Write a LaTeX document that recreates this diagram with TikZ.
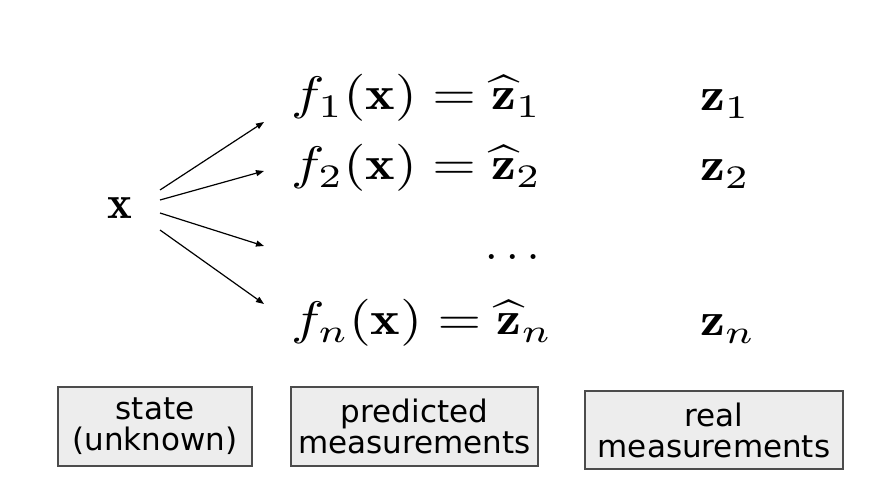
\documentclass[tikz,border=0pt]{standalone}
\usepackage{fontspec}
\usepackage{graphicx}
\newfontfamily\boxfont{DejaVu Sans}
\usetikzlibrary{arrows.meta}
\newcommand{\mybigmath}[1]{\scalebox{4.7}{$#1$}}
\newcommand{\mywidemath}[1]{\scalebox{5.6}[4.7]{$#1$}}
\begin{document}
\begin{tikzpicture}[x=1pt,y=-1pt,
  eq/.style={anchor=base west,inner sep=0pt},
  lbl/.style={draw=black!70,line width=1.2pt,fill=black!7,align=center,inner sep=0pt,
    font=\boxfont\fontsize{31}{31}\selectfont},
  arr/.style={line width=1.2pt,-{Triangle[length=8pt,width=6pt]}}]
\useasboundingbox (0,0) rectangle (873,502);
% state
\node[anchor=base,inner sep=0pt] (x) at (120,219) {\mybigmath{\mathbf{x}}};
% equations
\node[eq] (e1) at (291,110) {\mywidemath{f_1(\mathbf{x}) = \widehat{\mathbf{z}}_1}};
\node[eq] (e2) at (291,180) {\mywidemath{f_2(\mathbf{x}) = \widehat{\mathbf{z}}_2}};
\node[anchor=base east,inner sep=0pt] (dots) at (540,260) {\mybigmath{\dots}};
\node[eq] (en) at (291,335) {\mywidemath{f_n(\mathbf{x}) = \widehat{\mathbf{z}}_n}};
% real measurements
\node[eq] (z1) at (700,111) {\mywidemath{\mathbf{z}_1}};
\node[eq] (z2) at (700,181) {\mywidemath{\mathbf{z}_2}};
\node[eq] (zn) at (700,336) {\mywidemath{\mathbf{z}_n}};
% arrows
\coordinate (t1) at (160,190); \coordinate (h1) at (264,122);
\coordinate (t2) at (160,200); \coordinate (h2) at (264,171);
\coordinate (t3) at (160,213); \coordinate (h3) at (264,246);
\coordinate (t4) at (160,230); \coordinate (h4) at (264,304);
\draw[arr] (t1) -- (h1);
\draw[arr] (t2) -- (h2);
\draw[arr] (t3) -- (h3);
\draw[arr] (t4) -- (h4);
% boxes
\node[lbl,minimum width=194pt,minimum height=79pt] (b1) at (155,426.5) {state\\(unknown)};
\node[lbl,minimum width=247pt,minimum height=79pt] (b2) at (414.5,426.5) {predicted\\measurements};
\node[lbl,minimum width=258pt,minimum height=78pt] (b3) at (714,430) {real\\measurements};
\end{tikzpicture}
\end{document}
